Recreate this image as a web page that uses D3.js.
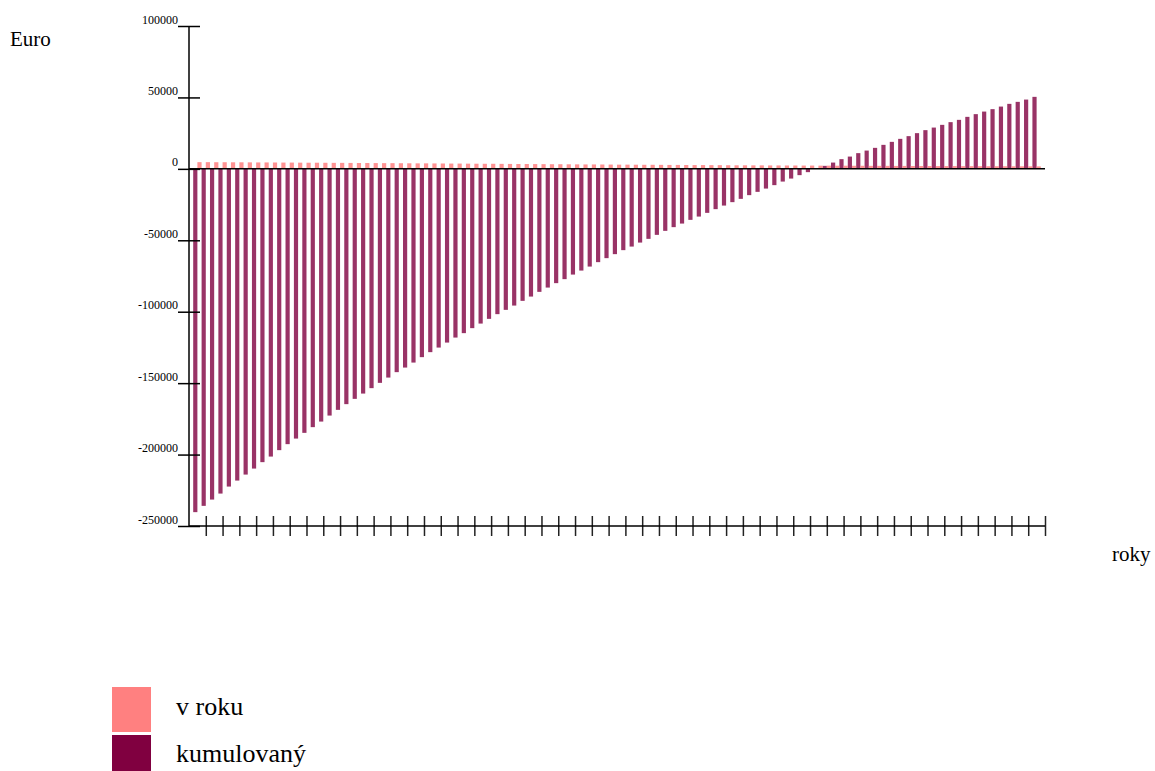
<!DOCTYPE html>
<html>
<head>
<meta charset="utf-8">
<script src="https://cdn.jsdelivr.net/npm/d3@7"></script>
<style>
  body { margin: 0; background: #fff; }
  text { font-family: "Liberation Serif", "Times New Roman", serif; fill: #000; }
</style>
</head>
<body>
<div id="chart"></div>
<script>
// years 1..101
var years = d3.range(1, 102);

// annual value ("v roku")
var vRoku = [
  4700, 4700, 4650, 4650, 4600, 4600, 4550, 4500, 4500, 4450,
  4400, 4400, 4350, 4300, 4300, 4250, 4200, 4200, 4150, 4100,
  4100, 4050, 4000, 4000, 3950, 3900, 3850, 3850, 3800, 3750,
  3700, 3700, 3650, 3600, 3550, 3550, 3500, 3450, 3400, 3400,
  3350, 3300, 3250, 3250, 3200, 3150, 3100, 3100, 3050, 3000,
  2950, 2950, 2900, 2850, 2850, 2800, 2750, 2750, 2700, 2650,
  2650, 2600, 2600, 2550, 2500, 2500, 2450, 2450, 2400, 2400,
  2350, 2350, 2300, 2300, 2250, 2250, 2200, 2200, 2150, 2150,
  2100, 2100, 2100, 2050, 2050, 2000, 2000, 2000, 1950, 1950,
  1950, 1900, 1900, 1900, 1850, 1850, 1850, 1800, 1800, 1800, 1750
];

// cumulative value ("kumulovaný")
var kumulovany = [
  -240300, -235900, -231500, -227300, -222400, -218200, -214000, -209800, -205300, -201400,
  -196900, -192700, -188800, -184800, -180800, -176900, -172700, -168700, -164700, -161000,
  -157300, -153500, -149800, -146100, -142300, -139100, -135600, -131800, -128300, -125100,
  -121600, -118100, -115000, -111500, -108300, -105000, -101700, -98700, -95700, -92400,
  -89400, -86100, -83100, -80000, -77200, -74000, -71200, -68400, -65300, -62500,
  -59700, -56900, -54400, -51600, -49000, -46200, -43400, -40800, -38300, -35700,
  -33400, -30800, -28200, -25700, -23300, -21000, -18400, -16100, -13800, -11400,
  -8900, -6800, -4400, -2300, -100, 2100, 4400, 6800, 8600, 11000,
  12800, 14700, 16800, 18900, 21000, 22900, 25000, 27100, 28900, 30800,
  32700, 34300, 36400, 38300, 40100, 41800, 43600, 45500, 46900, 48500, 50400
];

var yTicks = [-250000, -200000, -150000, -100000, -50000, 0, 50000, 100000];
var seriesNames = ["v roku", "kumulovaný"];
var seriesColors = ["#ff8080", "#800040"];

var svgWidth = 1155;
var svgHeight = 771;
var x0 = 189, x1 = 1045, yTop = 26, yBottom = 526;

var svg = d3.select("#chart").append("svg")
  .attr("width", svgWidth)
  .attr("height", svgHeight);

var yScale = d3.scaleLinear()
  .domain([-250000, 100000])
  .range([yBottom, yTop]);

// one band per year, cumulative bar on the left half, annual on the right
var xBand = d3.scaleBand()
  .domain(years)
  .range([x0, x1])
  .paddingInner(0)
  .paddingOuter(0.5);

var xSub = d3.scaleBand()
  .domain(["kumulovaný", "v roku"])
  .range([0, xBand.bandwidth()]);

// linear scale in band steps, for the x tick marks
var xStep = d3.scaleLinear()
  .domain([0, years.length + 1])
  .range([x0, x1]);

var rows = years.map(function(y, i) {
  return { year: y, vRoku: vRoku[i], kum: kumulovany[i] };
});

var bars = svg.append("g");

bars.selectAll("rect.kum").data(rows).enter()
  .append("rect")
  .attr("class", "kum")
  .attr("x", d => xBand(d.year) + xSub("kumulovaný"))
  .attr("width", xSub.bandwidth())
  .attr("y", d => yScale(Math.max(0, d.kum)))
  .attr("height", d => Math.abs(yScale(d.kum) - yScale(0)))
  .attr("fill", seriesColors[1])
  .attr("opacity", 0.8);

bars.selectAll("rect.rok").data(rows).enter()
  .append("rect")
  .attr("class", "rok")
  .attr("x", d => xBand(d.year) + xSub("v roku"))
  .attr("width", xSub.bandwidth())
  .attr("y", d => yScale(Math.max(0, d.vRoku)))
  .attr("height", d => Math.abs(yScale(d.vRoku) - yScale(0)))
  .attr("fill", seriesColors[0])
  .attr("opacity", 0.85);

// y axis
var yAxis = svg.append("g")
  .attr("transform", `translate(${x0},0)`)
  .call(d3.axisLeft(yScale).tickValues(yTicks).tickFormat(d => String(d)).tickSize(0));
yAxis.select(".domain").remove();
yAxis.selectAll(".tick line")
  .attr("x1", -11).attr("x2", 11)
  .attr("stroke", "#000").attr("stroke-width", 1.5);
yAxis.selectAll(".tick text")
  .attr("x", -11)
  .attr("dy", "-0.25em")
  .attr("font-size", 12)
  .attr("font-family", "Liberation Serif")
  .attr("fill", "#000");

svg.append("line")
  .attr("x1", x0).attr("x2", x0)
  .attr("y1", yTop).attr("y2", yBottom)
  .attr("stroke", "#000").attr("stroke-width", 1.5);

// x axis (ticks every two years, no labels)
var xAxis = svg.append("g")
  .attr("transform", `translate(0,${yBottom})`)
  .call(d3.axisBottom(xStep)
    .tickValues(d3.range(2, years.length + 2, 2))
    .tickFormat("")
    .tickSize(0));
xAxis.select(".domain").remove();
xAxis.selectAll(".tick line")
  .attr("y1", -10).attr("y2", 10)
  .attr("stroke", "#222").attr("stroke-width", 1.5);

svg.append("line")
  .attr("x1", x0).attr("x2", x1)
  .attr("y1", yBottom).attr("y2", yBottom)
  .attr("stroke", "#000").attr("stroke-width", 1.5);

// zero line
svg.append("line")
  .attr("x1", x0).attr("x2", x1)
  .attr("y1", yScale(0)).attr("y2", yScale(0))
  .attr("stroke", "#000").attr("stroke-width", 1.5);

// axis titles
svg.append("text")
  .attr("x", 10).attr("y", 46)
  .attr("font-size", 21)
  .text("Euro");

svg.append("text")
  .attr("x", 1112).attr("y", 561)
  .attr("font-size", 21)
  .text("roky");

// legend
var legend = svg.append("g");
seriesNames.forEach(function(name, i) {
  legend.append("rect")
    .attr("x", 112).attr("y", 687 + i * 48)
    .attr("width", 39).attr("height", 45)
    .attr("fill", seriesColors[i]);
  legend.append("text")
    .attr("x", 176).attr("y", 715 + i * 47)
    .attr("font-size", 26)
    .text(name);
});
</script>
</body>
</html>
